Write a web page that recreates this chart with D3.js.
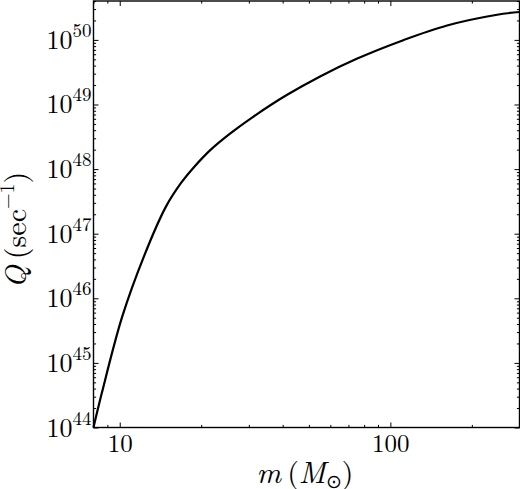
<!DOCTYPE html>
<html>
<head>
<meta charset="utf-8">
<script src="https://cdn.jsdelivr.net/npm/d3@7"></script>
<style>
  body { margin: 0; background: #fff; }
  svg { display: block; }
</style>
</head>
<body>
<svg id="chart"></svg>
<script>
// stellar mass (solar masses) and ionising photon rate Q (1/s)
const masses = [8.0, 8.6, 10.2, 12.3, 14.8, 16.8, 18.8, 21.7, 25.7, 31.2, 41.4, 55.0, 75.1, 111.6, 162, 248, 300];
const qRates = [1.0e44, 3.5e44, 5.1e45, 4.5e46, 2.6e47, 6.0e47, 1.07e48, 2.0e48, 3.6e48, 6.5e48, 1.4e49, 2.72e49, 5.1e49, 9.9e49, 1.67e50, 2.45e50, 2.7e50];

const xTicks = [10, 100];
const xTickLabels = ["10", "100"];
const yExponents = [44, 45, 46, 47, 48, 49, 50];

const FONT = "'Latin Modern Roman', 'CMU Serif', 'Liberation Serif', serif";

const svgWidth = 520, svgHeight = 489;
const margin = { top: 1, right: 0.5, bottom: 61.5, left: 93.5 };
const chartWidth = svgWidth - margin.left - margin.right;
const chartHeight = svgHeight - margin.top - margin.bottom;

const svg = d3.select("#chart").attr("width", svgWidth).attr("height", svgHeight);
const chartgroup = svg.append("g").attr("transform", "translate(" + margin.left + "," + margin.top + ")");

const x = d3.scaleLog().domain([8, 300]).range([0, chartWidth]);
const y = d3.scaleLog().domain([1e44, 4e50]).range([chartHeight, 0]);

// minor tick values (2..9 x 10^k) inside a log domain
function minorTicks(scale) {
  const [lo, hi] = scale.domain();
  const out = [];
  for (let e = Math.floor(Math.log10(lo)); e <= Math.ceil(Math.log10(hi)); e++) {
    for (let k = 2; k <= 9; k++) {
      const v = k * Math.pow(10, e);
      if (v >= lo && v <= hi) out.push(v);
    }
  }
  return out;
}
const xMinor = minorTicks(x);
const yMinor = minorTicks(y);
const yMajor = yExponents.map(e => Math.pow(10, e));

const majorLen = 5, minorLen = 2.6;

function tickStyle(g) {
  g.select(".domain").remove();
  g.selectAll(".tick line").attr("stroke", "#000").attr("stroke-width", 1);
}

/* ~~~~ minor ticks, all four sides, pointing in ~~~~ */
chartgroup.append("g").attr("transform", "translate(0," + chartHeight + ")")
  .call(d3.axisBottom(x).tickValues(xMinor).tickSize(-minorLen).tickFormat(""))
  .call(tickStyle);
chartgroup.append("g")
  .call(d3.axisTop(x).tickValues(xMinor).tickSize(-minorLen).tickFormat(""))
  .call(tickStyle);
chartgroup.append("g")
  .call(d3.axisLeft(y).tickValues(yMinor).tickSize(-minorLen).tickFormat(""))
  .call(tickStyle);
chartgroup.append("g").attr("transform", "translate(" + chartWidth + ",0)")
  .call(d3.axisRight(y).tickValues(yMinor).tickSize(-minorLen).tickFormat(""))
  .call(tickStyle);

/* ~~~~ major ticks + labels ~~~~ */
chartgroup.append("g").attr("class", "x-axis").attr("transform", "translate(0," + chartHeight + ")")
  .call(d3.axisBottom(x).tickValues(xTicks).tickSize(-majorLen).tickPadding(7)
    .tickFormat((d, i) => xTickLabels[i]))
  .call(tickStyle)
  .call(g => g.selectAll("text").attr("font-size", 25).attr("dy", "0.7em")
    .style("font-family", FONT).attr("fill", "#000"));

chartgroup.append("g")
  .call(d3.axisTop(x).tickValues(xTicks).tickSize(-majorLen).tickFormat(""))
  .call(tickStyle);

chartgroup.append("g").attr("class", "y-axis")
  .call(d3.axisLeft(y).tickValues(yMajor).tickSize(-majorLen).tickPadding(2).tickFormat(""))
  .call(tickStyle)
  .call(g => g.selectAll(".tick text").each(function(d) {
    const t = d3.select(this).attr("dy", null).attr("y", 8.5).attr("font-size", 26)
      .style("font-family", FONT).attr("fill", "#000");
    t.append("tspan").text("10");
    t.append("tspan").attr("font-size", 19).attr("dy", -12).text(Math.round(Math.log10(d)));
  }));

chartgroup.append("g").attr("transform", "translate(" + chartWidth + ",0)")
  .call(d3.axisRight(y).tickValues(yMajor).tickSize(-majorLen).tickFormat(""))
  .call(tickStyle);

/* ~~~~ frame ~~~~ */
chartgroup.append("rect")
  .attr("width", chartWidth).attr("height", chartHeight)
  .attr("fill", "none").attr("stroke", "#000").attr("stroke-width", 1.4);

/* ~~~~ the curve ~~~~ */
const line = d3.line()
  .x(d => x(d[0]))
  .y(d => y(d[1]))
  .curve(d3.curveCatmullRom.alpha(0.5));   // gentle smoothing of the joins

chartgroup.append("path")
  .datum(masses.map((m, i) => [m, qRates[i]]))
  .attr("d", line)
  .attr("fill", "none")
  .attr("stroke", "#000")
  .attr("stroke-width", 2.2)
  .attr("stroke-linejoin", "round");

/* ~~~~ axis labels ~~~~ */
const xlab = svg.append("text")
  .attr("x", 305)
  .attr("y", 483)
  .attr("text-anchor", "middle")
  .attr("font-size", 30)
  .style("font-family", FONT);
xlab.append("tspan").attr("font-style", "italic").text("m");
xlab.append("tspan").text("\u2009(");
xlab.append("tspan").attr("font-style", "italic").text("M");
xlab.append("tspan").attr("font-size", 19).attr("dy", 5).text("\u2299");
xlab.append("tspan").attr("dy", -5).text(")");

const ylab = svg.append("text")
  .attr("transform", "translate(26,230) rotate(-90)")
  .attr("text-anchor", "middle")
  .attr("font-size", 30)
  .style("font-family", FONT);
ylab.append("tspan").attr("font-style", "italic").text("Q");
ylab.append("tspan").text("\u2009(sec");
ylab.append("tspan").attr("font-size", 20).attr("dy", -12).text("\u22121");
ylab.append("tspan").attr("dy", 12).text(")");
</script>
</body>
</html>
